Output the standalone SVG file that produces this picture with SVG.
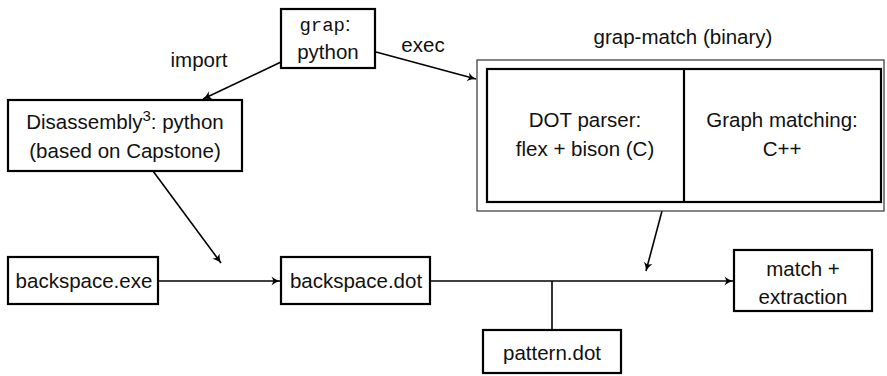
<svg xmlns="http://www.w3.org/2000/svg" width="887" height="376" viewBox="0 0 887 376">
  <style>
    text { font-family: "Liberation Sans", Arial, sans-serif; font-size: 20.5px; fill: #111; text-anchor: middle; }
    .mono { font-family: "Liberation Mono", "DejaVu Sans Mono", monospace; font-size: 19px; }
    .box { fill: #fff; stroke: #000; stroke-width: 2.2; }
    .frame { fill: none; stroke: #333; stroke-width: 1.2; }
    .edge { fill: none; stroke: #000; stroke-width: 1.6; }
  </style>
  <defs>
    <marker id="arrow" markerWidth="12" markerHeight="10" refX="10" refY="5" orient="auto" markerUnits="userSpaceOnUse">
      <path d="M10,5 C7,4.2 4,2.5 1.5,0.5 L3.5,5 L1.5,9.5 C4,7.5 7,5.8 10,5 Z" fill="#000"/>
    </marker>
  </defs>

  <!-- connectors -->
  <g id="connectors">
    <line class="edge" x1="281" y1="62" x2="203" y2="99" marker-end="url(#arrow)"/>
    <line class="edge" x1="376" y1="52" x2="476" y2="79" marker-end="url(#arrow)"/>
    <line class="edge" x1="153" y1="171" x2="221" y2="263" marker-end="url(#arrow)"/>
    <line class="edge" x1="662" y1="211" x2="646" y2="271" marker-end="url(#arrow)"/>
    <line class="edge" x1="158" y1="281" x2="280" y2="281" marker-end="url(#arrow)"/>
    <line class="edge" x1="430" y1="281" x2="733" y2="281" marker-end="url(#arrow)"/>
    <line class="edge" x1="552" y1="281" x2="552" y2="330"/>
    <text x="199" y="67">import</text>
    <text x="423" y="52">exec</text>
  </g>

  <g id="grap">
    <rect class="box" x="281" y="9" width="94" height="59"/>
    <text class="mono" x="325" y="31">grap<tspan font-family="Liberation Sans, Arial, sans-serif" font-size="20">:</tspan></text>
    <text x="328" y="59">python</text>
  </g>

  <g id="disassembly">
    <rect class="box" x="8" y="100" width="234" height="71"/>
    <text x="125" y="129">Disassembly<tspan font-size="15" dy="-8">3</tspan><tspan dy="8">:  python</tspan></text>
    <text x="125" y="158">(based on Capstone)</text>
  </g>

  <g id="grap-match">
    <text x="683" y="44">grap-match (binary)</text>
    <rect class="frame" x="477" y="60" width="407" height="151"/>
    <rect class="box" x="487" y="69" width="394" height="133"/>
    <line x1="684" y1="69" x2="684" y2="202" stroke="#000" stroke-width="2.2"/>
  </g>

  <g id="dot-parser">
    <text x="585" y="127">DOT parser:</text>
    <text x="585" y="156">flex + bison (C)</text>
  </g>

  <g id="graph-matching">
    <text x="782" y="127">Graph matching:</text>
    <text x="782" y="156">C++</text>
  </g>

  <g id="backspace-exe">
    <rect class="box" x="8" y="257" width="150" height="47"/>
    <text x="84" y="288">backspace.exe</text>
  </g>

  <g id="backspace-dot">
    <rect class="box" x="281" y="257" width="149" height="47"/>
    <text x="356" y="288">backspace.dot</text>
  </g>

  <g id="match-extraction">
    <rect class="box" x="734" y="250" width="138" height="61"/>
    <text x="803" y="276">match +</text>
    <text x="803" y="304">extraction</text>
  </g>

  <g id="pattern-dot">
    <rect class="box" x="483" y="330" width="138" height="43"/>
    <text x="552" y="360">pattern.dot</text>
  </g>
</svg>
